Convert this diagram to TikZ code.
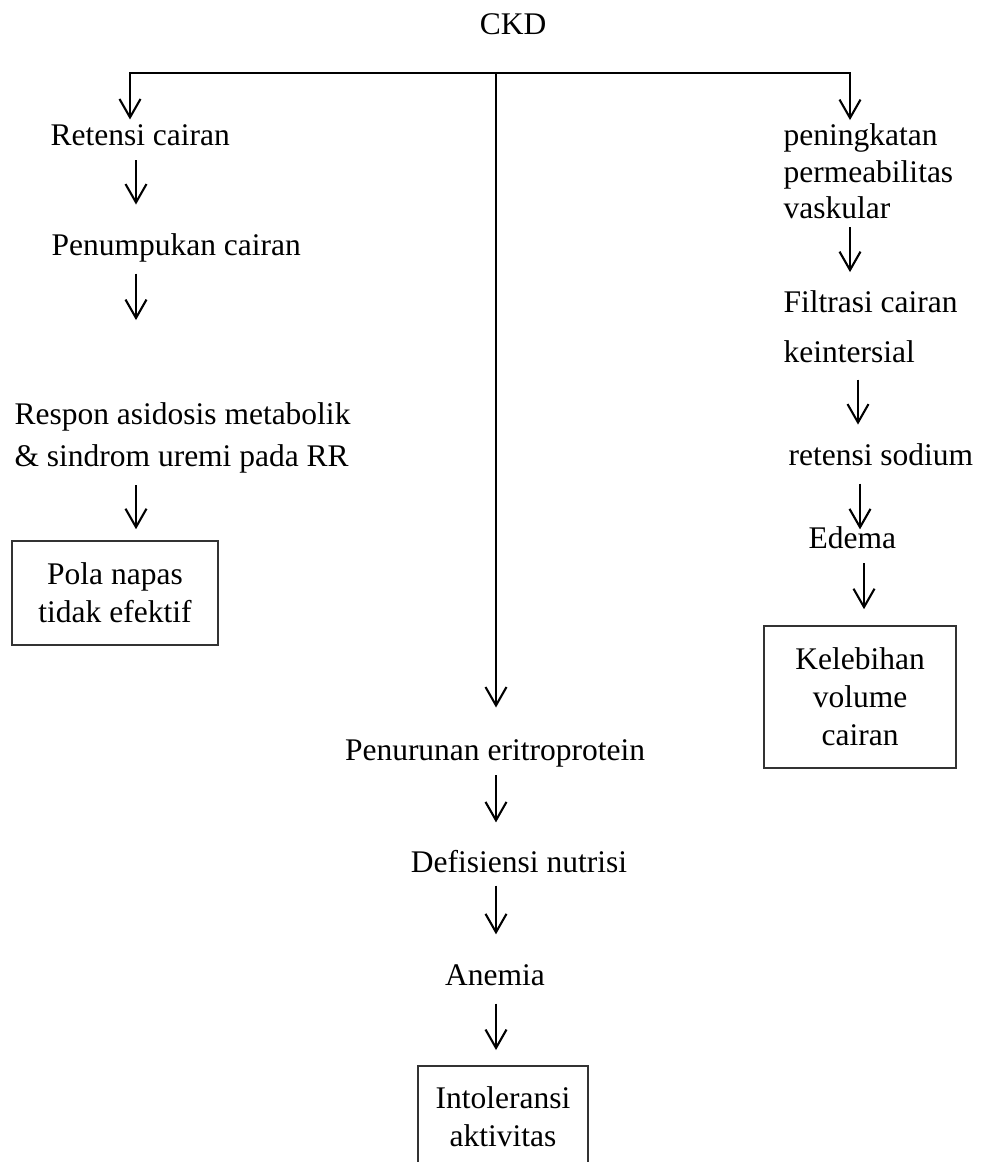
\documentclass[tikz,border=0pt]{standalone}
\usepackage{fontspec}
\setmainfont{Liberation Serif}
\usepackage{tikz}
\usetikzlibrary{arrows.meta,%
                positioning}

\begin{document}
\begin{tikzpicture}[x=0.381pt, y=-0.381pt]
  \tikzset{TextStyle/.style  = {shape          = rectangle,
                                inner sep      = 0pt,
                                font           = \fontsize{12}{13.8}\selectfont,
                                text height    = 8.2pt,
                                text depth     = 2.6pt}}
  \tikzset{LinesStyle/.style = {shape          = rectangle,
                                inner sep      = 0pt,
                                align          = left,
                                font           = \fontsize{12}{13.8}\selectfont}}
  \tikzset{BoxStyle/.style   = {shape          = rectangle,
                                draw           = black!80,
                                line width     = 0.6pt,
                                inner sep      = 0pt,
                                align          = center,
                                font           = \fontsize{12}{14.5}\selectfont}}
  \tikzset{ArrowStyle/.style = {line width = 0.8pt,
                                -{Straight Barb[length=7pt, width=8pt]}}}
  \clip (0,0) rectangle (984,1162);
	%%% RACINE %%%
	\node[TextStyle, anchor=base](ckd) at (513,35){CKD};
	\coordinate (hub) at (496,73);
	\coordinate (barL) at (130,73);
	\coordinate (barR) at (850,73);
	%%% BRANCHE GAUCHE %%%
	\node[TextStyle, anchor=base west](retensi) at (50,146){Retensi cairan};
	\node[TextStyle, anchor=base west](penumpukan) at (51,256){Penumpukan cairan};
	\node[LinesStyle, anchor=north west](respon) at (14,402.5){Respon asidosis metabolik\\[2.2pt]\& sindrom uremi pada RR};
	\node[BoxStyle, minimum width=78.5pt, minimum height=39.6pt](pola) at (115,593){Pola napas\\tidak efektif};
	\draw[ArrowStyle, shorten >=1.7pt](hub) -- (barL) -- (barL |- retensi.north);
	\draw[ArrowStyle, shorten <=2.7pt, shorten >=11.2pt](retensi.south -| 136,0) -- (penumpukan.north -| 136,0);
	\draw[ArrowStyle, shorten <=3.9pt, shorten >=31.4pt](penumpukan.south -| 136,0) -- (respon.north -| 136,0);
	\draw[ArrowStyle, shorten <=4.3pt, shorten >=4.2pt](respon.south -| 136,0) -- (pola.north -| 136,0);
	%%% BRANCHE DROITE %%%
	\node[LinesStyle, anchor=north west](peningkatan) at (783,123.5){peningkatan\\permeabilitas\\vaskular};
	\node[LinesStyle, anchor=north west](filtrasi) at (783,290.5){Filtrasi cairan\\[5.2pt]keintersial};
	\node[TextStyle, anchor=base west](sodium) at (788,465){retensi sodium};
	\node[TextStyle, anchor=base west](edema) at (808,548){Edema};
	\node[BoxStyle, minimum width=73.2pt, minimum height=54.1pt](kelebihan) at (860,697){Kelebihan\\volume\\cairan};
	\draw[ArrowStyle, shorten >=1.3pt](hub) -- (barR) -- (barR |- peningkatan.north);
	\draw[ArrowStyle, shorten <=3pt, shorten >=7pt](peningkatan.south -| 850,0) -- (filtrasi.north -| 850,0);
	\draw[ArrowStyle, shorten <=6.1pt, shorten >=7pt](filtrasi.south -| 858,0) -- (sodium.north -| 858,0);
	\draw[ArrowStyle, shorten <=4.3pt, shorten >=-1.3pt](sodium.south -| 860,0) -- (edema.north -| 860,0);
	\draw[ArrowStyle, shorten <=3.1pt, shorten >=6.1pt](edema.south -| 864,0) -- (kelebihan.north -| 864,0);
	%%% BRANCHE CENTRALE %%%
	\node[TextStyle, anchor=base](penurunan) at (495,760){Penurunan eritroprotein};
	\node[TextStyle, anchor=base](defisiensi) at (519,872){Defisiensi nutrisi};
	\node[TextStyle, anchor=base](anemia) at (495,985){Anemia};
	\node[BoxStyle, anchor=north, minimum width=64.8pt, minimum height=38.9pt](intoleransi) at (503,1065){Intoleransi\\aktivitas};
	\draw[ArrowStyle, shorten >=11.6pt](hub) -- (penurunan.north -| hub);
	\draw[ArrowStyle, shorten <=3.1pt, shorten >=10.5pt](penurunan.south -| hub) -- (defisiensi.north -| hub);
	\draw[ArrowStyle, shorten <=2.4pt, shorten >=10.9pt](defisiensi.south -| hub) -- (anemia.north -| hub);
	\draw[ArrowStyle, shorten <=4.3pt, shorten >=5.7pt](anemia.south -| hub) -- (intoleransi.north -| hub);
\end{tikzpicture}
\end{document}
